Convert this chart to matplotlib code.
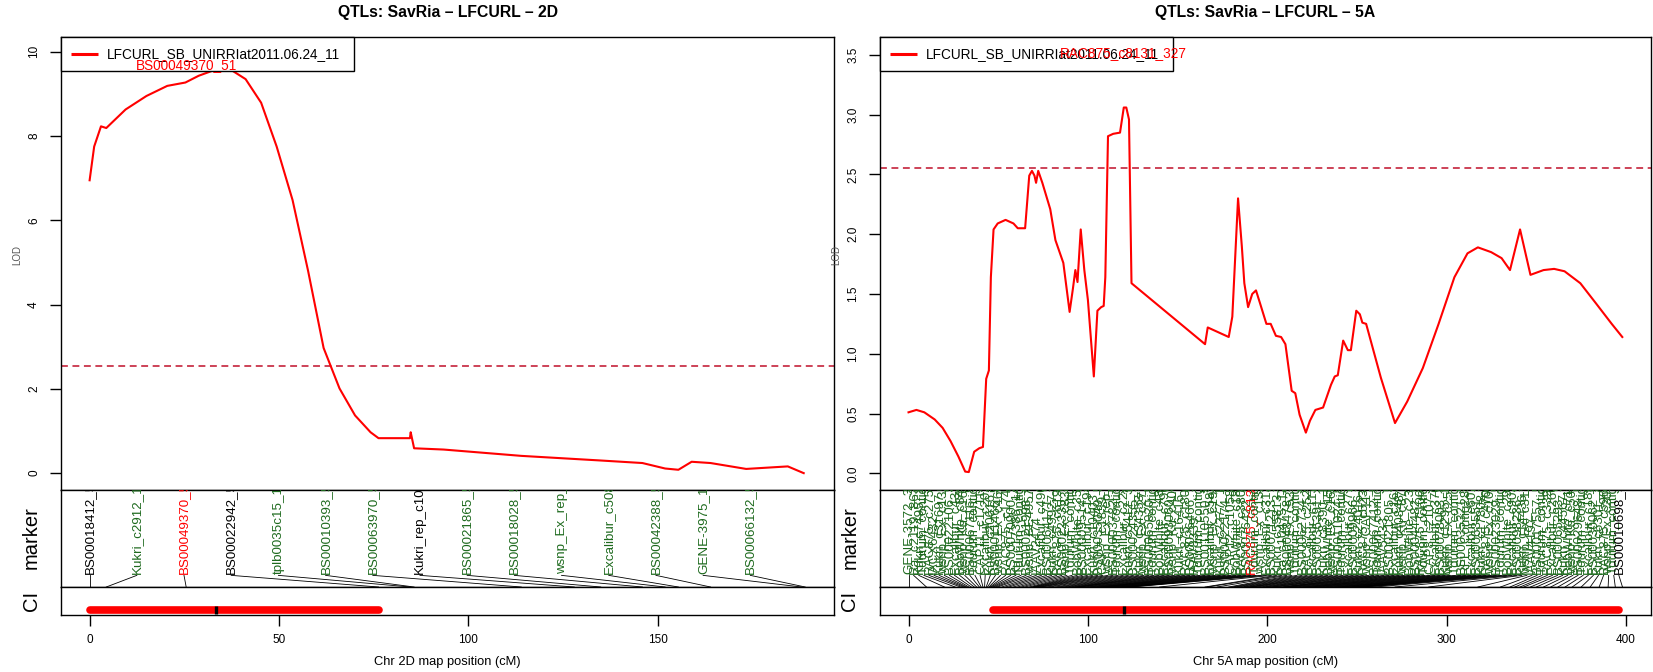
import numpy as np
import matplotlib
matplotlib.use("Agg")
import matplotlib.pyplot as plt

plt.rcParams['font.family'] = ['Liberation Sans', 'DejaVu Sans']

W, H, DPI = 1653, 672, 100

# ---------------- chromosome 2D ----------------
pos_2d = [0, 1.2, 3.0, 4.4, 9.5, 15, 20.5, 25.3, 28.8, 34.3, 37, 41.2, 45.3, 49.4,
          53.6, 57.7, 61.8, 66, 70.1, 74.2, 76.3, 84.6, 84.8, 85.7, 93.5, 114, 135,
          146, 152, 155.5, 159, 164, 173.4, 184.4, 188.6]
lod_2d = [6.95, 7.75, 8.23, 8.19, 8.63, 8.95, 9.19, 9.27, 9.43, 9.61, 9.59, 9.35, 8.79,
          7.75, 6.48, 4.80, 2.97, 2.01, 1.37, 0.97, 0.83, 0.83, 0.97, 0.59, 0.56, 0.41,
          0.30, 0.24, 0.11, 0.08, 0.27, 0.24, 0.10, 0.16, 0.0]
markers_2d = ["BS00018412_51", "Kukri_c2912_1221", "BS00049370_51", "BS00022942_51",
              "tplb0035c15_1236", "BS00010393_51", "BS00063970_51", "Kukri_rep_c102220_309",
              "BS00021865_51", "BS00018028_51", "wsnp_Ex_rep_c67196_65705208",
              "Excalibur_c5082_1053", "BS00042388_51", "GENE-3975_109", "BS00066132_51"]
marker_pos_2d = [0, 4.4, 25.5, 76.3, 84.7, 85.7, 114, 128, 135, 146, 152, 155.5, 164, 188, 189]
black_2d = {"BS00018412_51", "BS00022942_51", "Kukri_rep_c102220_309"}
peak_marker_2d = "BS00049370_51"
ci_2d = (0, 76.5)
peak_2d = 33.5

# ---------------- chromosome 5A ----------------
pos_5a = [0, 4.4, 8.8, 14.6, 19, 23.4, 27.8, 31.6, 33.6, 36.6, 39.5, 41.5, 43.3, 44.8,
          45.9, 47.4, 49.7, 54.1, 58.5, 60.9, 65, 67.3, 68.8, 70.2, 71.1, 72.3, 74.6, 79,
          81.9, 86.3, 89.8, 91.6, 93, 94.2, 96, 98, 100, 103.3, 105.3, 107.4, 108.8, 109.7,
          111.2, 114.1, 117.9, 120, 121.4, 122.9, 124.3, 165.3, 166.8, 178.5, 180.5, 183.7,
          185.8, 187.2, 189.3, 191.6, 193.7, 196, 199.5, 201.9, 204.8, 207.7, 210.1, 213.6,
          215.6, 218, 221.5, 223.8, 226.8, 231.1, 235.5, 237.6, 239.3, 242.3, 244.9, 246.6,
          249.6, 251.6, 253, 255.1, 263.3, 271.2, 278, 286.7, 295.5, 304.3, 311.6, 317.4,
          324.8, 330.6, 335.3, 340.9, 346.7, 354, 359.9, 365.7, 374.5, 383.3, 392, 397.9]
lod_5a = [0.51, 0.53, 0.51, 0.45, 0.38, 0.27, 0.14, 0.014, 0.01, 0.18, 0.21, 0.22, 0.79, 0.86,
          1.64, 2.04, 2.09, 2.12, 2.09, 2.05, 2.05, 2.49, 2.53, 2.49, 2.43, 2.53, 2.43, 2.21,
          1.95, 1.76, 1.35, 1.54, 1.70, 1.60, 2.04, 1.70, 1.45, 0.81, 1.36, 1.39, 1.40, 1.64,
          2.82, 2.84, 2.85, 3.06, 3.06, 2.96, 1.59, 1.08, 1.22, 1.14, 1.31, 2.30,
          1.90, 1.59, 1.39, 1.50, 1.53, 1.42, 1.25, 1.25, 1.15, 1.14, 1.08, 0.69,
          0.67, 0.49, 0.34, 0.44, 0.53, 0.55, 0.74, 0.81, 0.82, 1.11, 1.03, 1.03,
          1.36, 1.33, 1.26, 1.25, 0.80, 0.42, 0.60, 0.88, 1.25, 1.64, 1.84, 1.89,
          1.85, 1.80, 1.70, 2.04, 1.66, 1.70, 1.71, 1.69, 1.59, 1.42, 1.25, 1.14]
markers_5a = [
    "GENE-3572_338", "Ra_c2119_863", "Kukri_c7495_1001", "Tdurum_contig10843_1181",
    "RAC875_c27536_611", "IACX6432", "Kukri_c31697_426", "wsnp_Ex_c1358_2601399",
    "BS00022106_51", "Excalibur_c4325_1263", "BobWhite_c8436_191", "wsnp_Ku_c16812_25788879",
    "BS00067116_51", "Tdurum_contig42229_113", "CAP11_c1711_193", "Excalibur_c20277_483",
    "Kukri_c20616_457", "BS00011466_51", "wsnp_Ex_c4661_8340303", "RAC875_c17479_359",
    "BS00070900_51", "Ku_c17386_1418", "Tdurum_contig64772_417", "BS00021998_51",
    "wsnp_BE495786_Ta_2_1", "IAAV2474", "Excalibur_c49096_109", "BS00064171_51",
    "Kukri_c49927_92", "RAC875_c61934_218", "BS00022335_51", "wsnp_Ex_c8386_14155962",
    "Tdurum_contig28910_132", "BobWhite_c3502_249", "BS00009514_51", "Excalibur_c1942_1368",
    "Kukri_c10403_1127", "BS00035049_51", "CAP7_c1839_198", "wsnp_Ex_rep_c66689_65010988",
    "BS00003782_51", "Tdurum_contig12008_1195", "Excalibur_c22231_286", "Kukri_c5412_339",
    "BS00024355_51", "Kukri_c34353_1059", "wsnp_Ex_c2723_5047696", "BS00065020_51",
    "Tdurum_contig4974_355", "BobWhite_c48435_165", "Excalibur_c7963_1584", "BS00093060_51",
    "wsnp_Ku_c4067_7419360", "Kukri_c16416_695", "RAC875_c18007_1195", "BS00026466_51",
    "IAAV8339", "Tdurum_contig50162_351", "BS00110550_51", "Excalibur_c5826_1023",
    "wsnp_Ex_c19773_28772235", "Kukri_c2277_1010", "BS00022174_51", "CAP12_c1058_158",
    "BobWhite_c18147_211", "RAC875_c38018_278", "BS00076422_51", "RAC875_c8131_327",
    "Tdurum_contig15876_245", "wsnp_Ex_c13396_21123006", "Excalibur_c31344_125",
    "BS00071213_51", "Kukri_c55813_264", "Ra_c10475_1294", "BS00048478_51",
    "wsnp_Ex_c5378_9505990", "Tdurum_contig86030_125", "BS00062734_51", "RAC875_c2529_1161",
    "Excalibur_c11346_1060", "BS00036391_51", "Kukri_c8390_1059", "BobWhite_c15276_98",
    "wsnp_Ex_c16015_24416311", "BS00011024_51", "Tdurum_contig29607_413",
    "Excalibur_c2714_1201", "BS00009966_51", "Kukri_c24016_127", "RAC875_c52306_201",
    "wsnp_CAP11_c1055_633591", "BS00067412_51", "Tdurum_contig31802_149", "IAAV5433",
    "BS00021805_51", "Excalibur_c16306_224", "Kukri_c40848_186", "wsnp_Ku_c8712_14790345",
    "BobWhite_c23828_340", "BS00044482_51", "RAC875_c10655_562", "Tdurum_contig47870_1094",
    "CAP8_c2107_225", "Excalibur_c37012_64", "BS00078003_51", "Kukri_c1295_1134",
    "wsnp_Ex_c2592_4822528", "Tdurum_contig9218_221", "BS00035321_51", "RFL_Contig2864_1210",
    "Excalibur_c60164_96", "BS00063551_51", "Kukri_c17808_418", "RAC875_c47018_263",
    "wsnp_Ex_c10555_17235832", "BS00023029_51", "Tdurum_contig54700_376", "BobWhite_c2988_71",
    "Excalibur_c9035_1075", "BS00098236_51", "Kukri_c14436_1089", "wsnp_Ex_c31299_40087634",
    "IAAV4197", "BS00017557_51", "Tdurum_contig81042_316", "RAC875_c33906_434",
    "Excalibur_c26088_371", "BS00065293_51", "Kukri_c44567_131", "BobWhite_c7145_344",
    "wsnp_Ku_c5071_9027222", "BS00029648_51", "Tdurum_contig13213_288", "Excalibur_c18934_152",
    "BS00030062_51", "Kukri_c6301_725", "RAC875_c59623_330", "wsnp_Ex_c20975_30093113",
    "Tdurum_contig48229_154", "BS00010698_51"]
marker_pos_5a = [
    0, 10, 20, 26, 29, 30.5, 31.6, 32.5, 33.6, 35,
    36.6, 38, 39.5, 40.5, 41.5, 42.4, 43.3, 44, 44.8, 45.4,
    45.9, 46.6, 47.4, 48.5, 49.7, 52, 54.1, 56, 58.5, 60.9,
    63, 65, 67.3, 68.8, 69.5, 70.2, 71.1, 72.3, 73.5, 74.6,
    77, 79, 81.9, 84, 86.3, 88, 89.8, 91.6, 93, 94.2,
    95, 96, 98, 100, 101.5, 103.3, 105.3, 106.5, 107.4, 108.8,
    109.7, 111.2, 112.5, 114.1, 116, 117.9, 119, 120, 121.4, 122.9,
    124.3, 140, 165.3, 166.8, 172, 178.5, 180.5, 182, 183.7, 185.8,
    187.2, 189.3, 190.5, 191.6, 193.7, 196, 198, 199.5, 201.9, 203,
    204.8, 207.7, 209, 210.1, 212, 213.6, 215.6, 218, 220, 221.5,
    223.8, 225, 226.8, 229, 231.1, 233, 235.5, 237.6, 239.3, 241,
    242.3, 244.9, 246.6, 248, 249.6, 251.6, 253, 255.1, 260, 271.2,
    290, 317.4, 330, 335.3, 338, 340.9, 343, 346.7, 350, 354,
    358, 362, 366, 370, 375, 380, 385, 390, 394, 398]
black_5a = {"BS00010698_51"}
peak_marker_5a = "RAC875_c8131_327"
ci_5a = (47, 396)
peak_5a = 120

threshold = 2.55
trait_label = "LFCURL_SB_UNIRRIat2011.06.24_11"

RED = "#ff0000"
DASH_RED = "#c0102a"
GREEN = "#1e6a1e"

fig = plt.figure(figsize=(W / DPI, H / DPI), dpi=DPI)


def rect(x0, y0, x1, y1):
    return [x0 / W, 1 - y1 / H, (x1 - x0) / W, (y1 - y0) / H]


def style_box(ax):
    for s in ax.spines.values():
        s.set_linewidth(1.0)
        s.set_color("black")


def panel(x0, x1, chrom, pos, lod, ylim, yticks, yticklabels, xlim, xticks,
          names, mpos, black, peak_name, ci, peak, peak_text_y, label_end):
    top, mid, ci_bottom, bottom = 37, 490, 587, 615
    ax = fig.add_axes(rect(x0, top, x1, mid))
    axm = fig.add_axes(rect(x0, mid, x1, ci_bottom))
    axc = fig.add_axes(rect(x0, ci_bottom, x1, bottom))
    for a in (ax, axm, axc):
        a.set_xlim(*xlim)
        style_box(a)

    # LOD profile and significance threshold
    ax.plot(pos, lod, color=RED, lw=1.5, zorder=3)
    ax.axhline(threshold, color=DASH_RED, lw=1.1, ls=(0, (4.5, 3)), zorder=2)
    ax.set_ylim(*ylim)
    ax.set_yticks(yticks)
    ax.set_yticklabels(yticklabels, rotation=90, va="center", fontsize=8.5)
    ax.tick_params(axis="y", direction="out", length=8, width=1, pad=7)
    ax.set_xticks([])

    # legend box in the top-left corner
    axw = x1 - x0
    axh = mid - top
    lx = lambda px: px / axw
    ly = lambda py: 1 - py / axh
    ax.add_patch(plt.Rectangle((0, ly(34)), lx(293), ly(0) - ly(34), transform=ax.transAxes,
                               facecolor="white", edgecolor="black", lw=1.0, zorder=5,
                               clip_on=False))
    ax.plot([lx(10), lx(37)], [ly(17), ly(17)], transform=ax.transAxes, color=RED,
            lw=2.2, zorder=6, solid_capstyle="butt", clip_on=False)
    ax.text(lx(46), ly(17), trait_label, transform=ax.transAxes, fontsize=9.8,
            va="center", ha="left", zorder=6)

    # name of the marker nearest the peak
    ax.text(mpos[names.index(peak_name)], peak_text_y, peak_name, color=RED,
            fontsize=9.8, ha="center", va="center", zorder=7)

    # marker panel: evenly spread labels linked to genetic positions
    axm.set_ylim(0, 1)
    axm.set_xticks([])
    axm.set_yticks([])
    slots = np.linspace(0, label_end, len(names))
    for nm, sx, mx in zip(names, slots, mpos):
        if nm == peak_name:
            col = RED
        elif nm in black:
            col = "black"
        else:
            col = GREEN
        axm.text(sx, 0.13, nm, rotation=90, ha="center", va="bottom", fontsize=9.6,
                 color=col, clip_on=True)
        axm.plot([sx, mx], [0.12, 0.0], color="black", lw=0.6)

    # confidence interval
    axc.set_ylim(0, 1)
    axc.set_yticks([])
    axc.plot(list(ci), [0.18, 0.18], color=RED, lw=5.5, solid_capstyle="round")
    axc.plot([peak, peak], [0.04, 0.32], color="black", lw=2.4, solid_capstyle="butt")
    axc.set_xticks(xticks)
    axc.set_xticklabels([str(t) for t in xticks], fontsize=8.5)
    axc.tick_params(axis="x", direction="out", length=8, width=1, pad=6)

    cx = (x0 + x1) / 2
    fig.text(cx / W, 1 - 13 / H, f"QTLs: SavRia \u2013 LFCURL \u2013 {chrom}",
             ha="center", va="center", fontsize=11.3, fontweight="bold")
    fig.text(cx / W, 1 - 662 / H, f"Chr {chrom} map position (cM)", ha="center",
             va="center", fontsize=9.3)
    fig.text((x0 - 30) / W, 1 - 538 / H, "marker", rotation=90, ha="center",
             va="center", fontsize=14.5)
    fig.text((x0 - 30) / W, 1 - 601 / H, "CI", rotation=90, ha="center",
             va="center", fontsize=14.5)
    fig.text((x0 - 44) / W, 1 - 255 / H, "LOD", rotation=90, ha="center",
             va="center", fontsize=7, color="#555555")


panel(61, 834, "2D", pos_2d, lod_2d, (-0.40, 10.35), [0, 2, 4, 6, 8, 10],
      ["0", "2", "4", "6", "8", "10"], (-7.56, 196.6), [0, 50, 100, 150],
      markers_2d, marker_pos_2d, black_2d, peak_marker_2d, ci_2d, peak_2d, 9.68, 174.5)

panel(880, 1651, "5A", pos_5a, lod_5a, (-0.14, 3.65), [0, 0.5, 1, 1.5, 2, 2.5, 3, 3.5],
      ["0.0", "0.5", "1.0", "1.5", "2.0", "2.5", "3.0", "3.5"], (-15.9, 413.9),
      [0, 100, 200, 300, 400], markers_5a, marker_pos_5a, black_5a, peak_marker_5a,
      ci_5a, peak_5a, 3.52, 396)

fig.savefig("out.png", dpi=DPI)
